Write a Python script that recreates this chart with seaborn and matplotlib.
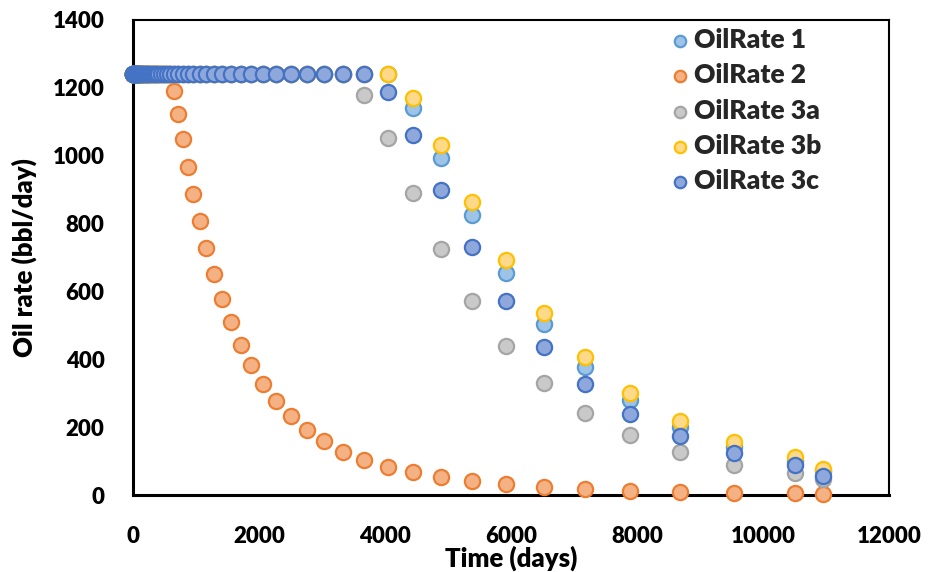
import matplotlib
matplotlib.use("Agg")
import matplotlib.pyplot as plt
import seaborn as sns
import pandas as pd

# ---- data ----
time_days = [1, 2.1, 3.3, 4.6, 6.1, 7.7, 9.5, 11.4, 13.6, 15.9, 18.5, 21.4, 24.5, 28.0,
             31.8, 36.0, 40.5, 45.6, 51.2, 57.3, 64.0, 71.4, 79.5, 88.5, 98.3, 109.2,
             121.1, 134.2, 148.6, 164.5, 181.9, 201.1, 222.3, 245.5, 271.0, 299.1, 330.0,
             364.0, 401.4, 442.6, 487.8, 537.6, 592.4, 652.6, 718.9, 791.8, 872.0, 960.2,
             1057.2, 1163.9, 1281.3, 1410.4, 1552.5, 1708.7, 1880.6, 2069.7, 2277.6,
             2506.4, 2758.0, 3034.8, 3339.3, 3674.2, 4042.7, 4447.9, 4893.7, 5384.1,
             5923.5, 6516.8, 7169.5, 7887.5, 8677.2, 9546.0, 10501.5, 10957.0]

n_flat = len(time_days)
plateau = 1240

oil_rate_1_tail = [1142, 994, 824, 654, 505, 377, 279, 201, 142, 100, 70]
oil_rate_2_tail = [1191, 1124, 1049, 968, 887, 808, 728, 652, 579, 509, 443, 383, 328,
                   277, 232, 193, 159, 128, 104, 83, 68, 52, 40, 31, 23.5, 17.6, 12.6,
                   8.8, 6.8, 5, 4]
oil_rate_3a_tail = [1179, 1052, 889, 726, 573, 439, 330, 243, 178, 127, 89, 64, 46]
oil_rate_3b_tail = [1169, 1032, 865, 694, 537, 408, 301, 218, 155, 111, 78]
oil_rate_3c_tail = [1188, 1061, 899, 731, 573, 436, 326, 240, 174, 123, 87, 57]

def full(tail):
    return [plateau] * (n_flat - len(tail)) + list(tail)

series_names = ["OilRate 1", "OilRate 2", "OilRate 3a", "OilRate 3b", "OilRate 3c"]
series_values = [full(oil_rate_1_tail), full(oil_rate_2_tail), full(oil_rate_3a_tail),
                 full(oil_rate_3b_tail), full(oil_rate_3c_tail)]
fill_colors = ["#9DC3E6", "#F4B183", "#C9C9C9", "#FFD98A", "#8FA8DC"]
edge_colors = ["#5B9BD5", "#ED7D31", "#A5A5A5", "#FFC000", "#4472C4"]

x_ticks = [0, 2000, 4000, 6000, 8000, 10000, 12000]
y_ticks = [0, 200, 400, 600, 800, 1000, 1200, 1400]

# ---- plot ----
sns.set_theme(style="white")
plt.rcParams["font.family"] = ["Lato", "DejaVu Sans"]
W = "heavy"
plt.rcParams["font.weight"] = W

fig = plt.figure(figsize=(9.29, 5.72), dpi=100)
ax = fig.add_axes([133 / 929, 1 - 495 / 572, (889 - 133) / 929, (495 - 20) / 572])

for name, vals, fc, ec in zip(series_names, series_values, fill_colors, edge_colors):
    df = pd.DataFrame({"Time": time_days, "Rate": vals})
    sns.scatterplot(data=df, x="Time", y="Rate", ax=ax, color=fc, edgecolor=ec,
                    linewidth=1.6, s=120, label=name, clip_on=False, zorder=3)

ax.set_xlim(0, 12000)
ax.set_ylim(0, 1400)
ax.set_xticks(x_ticks)
ax.set_yticks(y_ticks)
ax.tick_params(axis="both", length=0, labelsize=16, colors="black")
ax.tick_params(axis="x", pad=22.5)
ax.tick_params(axis="y", pad=20.5)
for lab in ax.get_xticklabels() + ax.get_yticklabels():
    lab.set_fontweight(W)

ax.set_xlabel("Time (days)", fontsize=18.5, fontweight=W, color="black")
ax.set_ylabel("Oil rate (bbl/day)", fontsize=18.5, fontweight=W, color="black")
ax.xaxis.set_label_coords(0.5, -0.107)
ax.yaxis.set_label_coords(-0.127, 0.5)

for side in ["left", "bottom"]:
    ax.spines[side].set_linewidth(2.2)
    ax.spines[side].set_color("black")
for side in ["top", "right"]:
    ax.spines[side].set_linewidth(1.5)
    ax.spines[side].set_color("black")

leg = ax.legend(loc="upper left", bbox_to_anchor=(0.6985, 1.0), frameon=False,
                prop={"size": 19, "weight": W}, markerscale=0.75,
                handlelength=0.8, handletextpad=0.15, labelspacing=0.43,
                borderaxespad=0.1, borderpad=0.2)

fig.savefig("out.png", dpi=100, facecolor="white")
